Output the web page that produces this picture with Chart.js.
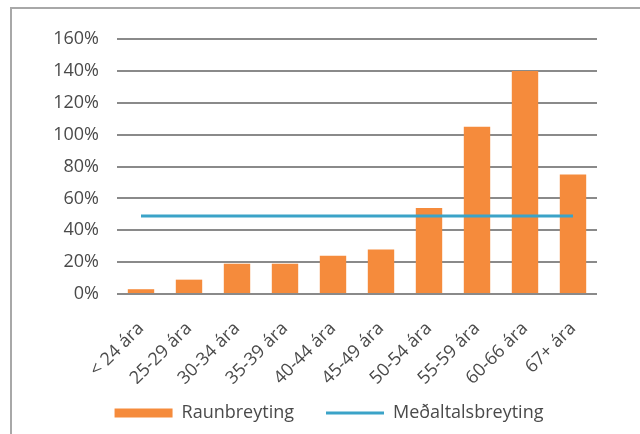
<!DOCTYPE html>
<html>
<head>
<meta charset="utf-8">
<script src="https://cdn.jsdelivr.net/npm/chart.js@4/dist/chart.umd.min.js"></script>
<style>
  body { margin: 0; background: #fff; overflow: hidden; }
  #wrap { position: absolute; left: 0; top: 0; width: 640px; height: 434px; }
</style>
</head>
<body>
<div id="wrap"><canvas id="ageChart" width="640" height="434"></canvas></div>
<script>
// Aldurshópar og breyting í prósentum
const categories = ['< 24 ára', '25-29 ára', '30-34 ára', '35-39 ára', '40-44 ára',
                    '45-49 ára', '50-54 ára', '55-59 ára', '60-66 ára', '67+ ára'];
const raunbreyting = [3, 9, 19, 19, 24, 28, 54, 105, 140, 75];
const medaltal = 49;
const medaltalsbreyting = categories.map(() => medaltal);

const textColor = '#4a4a4a';
const fontFamily = '"Open Sans", "Liberation Sans", sans-serif';

// white background and the grey frame around the chart
const framePlugin = {
    id: 'frame',
    beforeDraw(chart) {
        const c = chart.ctx;
        c.save();
        c.fillStyle = '#fff';
        c.fillRect(0, 0, chart.width, chart.height);
        c.strokeStyle = '#a8a8a8';
        c.lineWidth = 2;
        c.strokeRect(11, 8, 700, 500);
        c.restore();
    }
};

// short legend band, pulled up a little and centred under the plot
const legendBox = {
    id: 'legendBox',
    beforeLayout(chart) {
        const lg = chart.legend;
        if (lg && !lg._fixedFit) {
            const fit = lg.fit.bind(lg);
            lg.fit = function () {
                fit();
                this.height = 50;
            };
            lg._fixedFit = true;
        }
    },
    afterLayout(chart) {
        const lg = chart.legend;
        if (lg) {
            lg.left = 61;
            lg.right = chart.chartArea.right;
            lg.width = lg.right - lg.left;
            lg.top = 372;
            lg.bottom = lg.top + 50;
        }
    }
};

const ctx = document.getElementById('ageChart').getContext('2d');
const myChart = new Chart(ctx, {
    data: {
        labels: categories,
        datasets: [{
            type: 'bar',
            label: 'Raunbreyting',
            data: raunbreyting,
            backgroundColor: '#F58B3C',
            borderWidth: 0,
            barPercentage: 0.55,
            categoryPercentage: 1,
            pointStyle: 'rect',
            order: 2
        }, {
            type: 'line',
            label: 'Meðaltalsbreyting',
            data: medaltalsbreyting,
            borderColor: '#3BA3C8',
            backgroundColor: '#3BA3C8',
            borderWidth: 3,
            pointRadius: 0,
            pointStyle: 'line',
            order: 1
        }]
    },
    options: {
        responsive: false,
        animation: false,
        layout: {
            padding: { left: 0, right: 43, top: 39, bottom: 0 }
        },
        scales: {
            x: {
                grid: { display: false },
                border: { display: false },
                ticks: {
                    color: textColor,
                    font: { family: fontFamily, size: 18 },
                    minRotation: 45,
                    maxRotation: 45,
                    padding: 16
                },
                afterFit(scale) { scale.height = 90; }
            },
            y: {
                min: 0,
                max: 160,
                border: { display: false },
                grid: { color: '#8a8a8a', lineWidth: 2, drawTicks: false },
                ticks: {
                    stepSize: 20,
                    color: textColor,
                    padding: 18,
                    font: { family: fontFamily, size: 18 },
                    callback: v => v + '%'
                },
                afterFit(scale) { scale.width = 117; }
            }
        },
        plugins: {
            legend: {
                position: 'bottom',
                labels: {
                    usePointStyle: true,
                    pointStyleWidth: 58,
                    boxHeight: 9,
                    padding: 32,
                    color: textColor,
                    font: { family: fontFamily, size: 18 },
                    sort: (a, b) => a.datasetIndex - b.datasetIndex
                }
            },
            tooltip: { enabled: false }
        }
    },
    plugins: [framePlugin, legendBox]
});
</script>
</body>
</html>
